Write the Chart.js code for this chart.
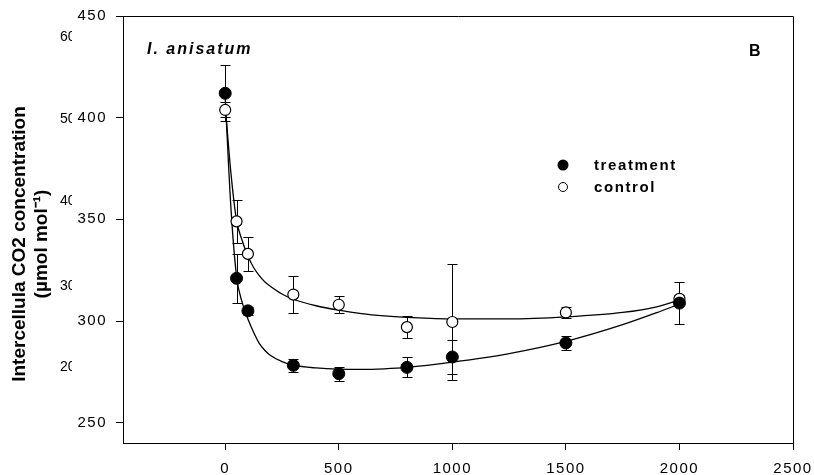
<!DOCTYPE html>
<html>
<head>
<meta charset="utf-8">
<script src="https://cdn.jsdelivr.net/npm/chart.js@4.4.1/dist/chart.umd.min.js"></script>
<style>
html, body { margin: 0; padding: 0; background: #fff; }
#wrap { width: 814px; height: 475px; }
</style>
</head>
<body>
<div id="wrap"><canvas id="chart"></canvas></div>
<script>
// measured points (mean and error)
const doses = [0, 50, 100, 300, 500, 800, 1000, 1500, 2000]
const treatment = [412, 321, 305, 278.2, 274.1, 277.2, 282.3, 289.2, 308.8]
const treatmentErr = [13.8, 12, 2, 3.1, 3.5, 4.9, 8.5, 3.4, 10.5]
const control = [403.8, 349, 333, 313, 308, 297, 299.5, 304.2, 310.9]
const controlErr = [3.7, 10.5, 8.3, 9.1, 4.2, 5.3, 28.5, 2.7, 2]

// fitted curves
const fitX = [0, 25, 50, 75, 100, 125, 150, 175, 200, 250, 300, 400, 500, 600, 700, 800, 1000, 1250, 1500, 1750, 1900, 2000]
const treatmentFit = [410, 356, 322, 309, 301, 294.5, 289, 285.5, 283, 280, 278.3, 276.9, 276.3, 276.2, 276.5, 277.2, 279.8, 284, 290, 298.2, 304.1, 308.3]
const controlFit = [406, 373, 349.5, 339.5, 332, 326.3, 322.3, 319.2, 317, 313.3, 310.7, 307.5, 305.3, 303.6, 302.5, 301.8, 301, 301, 302, 304.2, 307, 310.4]

const xTicks = [0, 500, 1000, 1500, 2000, 2500]
const yTicks = [250, 300, 350, 400, 450]
const ghostLabels = ['60', '50', '40', '30', '20']

const pts = (xs, ys) => xs.map((x, i) => ({ x: x, y: ys[i] }))

const errorBars = {
    id: 'errorBars',
    beforeDatasetsDraw(chart) {
        const { ctx, scales: { x, y } } = chart
        ctx.save()
        ctx.strokeStyle = '#000'
        ctx.lineWidth = 1
        const sets = [[treatment, treatmentErr], [control, controlErr]]
        sets.forEach(([vals, errs]) => {
            doses.forEach((d, i) => {
                const px = Math.round(x.getPixelForValue(d)) + 0.5
                const top = Math.round(y.getPixelForValue(vals[i] + errs[i])) + 0.5
                const bot = Math.round(y.getPixelForValue(vals[i] - errs[i])) + 0.5
                ctx.beginPath()
                ctx.moveTo(px, top); ctx.lineTo(px, bot)
                ctx.moveTo(px - 5, top); ctx.lineTo(px + 5, top)
                ctx.moveTo(px - 5, bot); ctx.lineTo(px + 5, bot)
                ctx.stroke()
            })
        })
        ctx.restore()
    }
}

const decor = {
    id: 'decor',
    beforeDraw(chart) {
        chart.ctx.letterSpacing = '1.5px'
    },
    afterDraw(chart) {
        const { ctx, chartArea: a } = chart
        ctx.save()
        ctx.letterSpacing = '0px'
        // frame top and right
        ctx.strokeStyle = '#000'
        ctx.lineWidth = 1
        ctx.beginPath()
        ctx.moveTo(a.left, Math.round(a.top) + 0.5)
        ctx.lineTo(Math.round(a.right) + 0.5, Math.round(a.top) + 0.5)
        ctx.lineTo(Math.round(a.right) + 0.5, a.bottom)
        ctx.stroke()

        ctx.fillStyle = '#000'
        // leftover labels of the panel behind
        ctx.save()
        ctx.beginPath()
        ctx.rect(0, 0, 72, 475)
        ctx.clip()
        ctx.font = '14px "Liberation Sans", Arial, sans-serif'
        ctx.textBaseline = 'middle'
        ctx.textAlign = 'left'
        const gy = [37.5, 118.7, 201, 286, 367.5]
        ghostLabels.forEach((t, i) => ctx.fillText(t, 60, gy[i]))
        ctx.restore()

        // y axis title
        ctx.save()
        ctx.font = 'bold 19px "Liberation Sans", Arial, sans-serif'
        ctx.textAlign = 'center'
        ctx.textBaseline = 'alphabetic'
        ctx.translate(25, 244)
        ctx.rotate(-Math.PI / 2)
        ctx.fillText('Intercellula CO2 concentration', 0, 0)
        ctx.restore()
        ctx.save()
        ctx.font = 'bold 19px "Liberation Sans", Arial, sans-serif'
        ctx.textAlign = 'center'
        ctx.textBaseline = 'alphabetic'
        ctx.translate(47, 244)
        ctx.rotate(-Math.PI / 2)
        ctx.fillText('(\u00b5mol mol\u207b\u00b9)', 0, 0)
        ctx.restore()

        // panel labels
        ctx.textAlign = 'left'
        ctx.textBaseline = 'alphabetic'
        ctx.letterSpacing = '2px'
        ctx.font = 'italic bold 16px "Liberation Sans", Arial, sans-serif'
        ctx.fillText('I. anisatum', 147, 53.5)
        ctx.font = 'bold 16px "Liberation Sans", Arial, sans-serif'
        ctx.fillText('B', 749, 55.5)

        // legend
        ctx.letterSpacing = '1.6px'
        ctx.font = 'bold 15px "Liberation Sans", Arial, sans-serif'
        ctx.fillText('treatment', 594, 170)
        ctx.fillText('control', 594, 191.5)
        ctx.beginPath()
        ctx.arc(563, 165, 5.5, 0, Math.PI * 2)
        ctx.fill()
        ctx.beginPath()
        ctx.arc(563, 187, 4.5, 0, Math.PI * 2)
        ctx.fillStyle = '#fff'
        ctx.fill()
        ctx.lineWidth = 1
        ctx.stroke()
        ctx.restore()
    }
}

const tickFont = { family: '"Liberation Sans", Arial, sans-serif', size: 15 }

new Chart(document.getElementById('chart'), {
    type: 'scatter',
    data: {
        datasets: [{
            label: 'treatment',
            data: pts(doses, treatment),
            pointRadius: 6,
            pointBackgroundColor: '#000',
            pointBorderColor: '#000',
            pointBorderWidth: 1
        }, {
            label: 'control',
            data: pts(doses, control),
            pointRadius: 5.5,
            pointBackgroundColor: '#fff',
            pointBorderColor: '#000',
            pointBorderWidth: 1.2
        }, {
            label: 'treatment fit',
            data: pts(fitX, treatmentFit),
            showLine: true,
            pointRadius: 0,
            borderColor: '#000',
            borderWidth: 1.3,
            cubicInterpolationMode: 'monotone'
        }, {
            label: 'control fit',
            data: pts(fitX, controlFit),
            showLine: true,
            pointRadius: 0,
            borderColor: '#000',
            borderWidth: 1.3,
            cubicInterpolationMode: 'monotone'
        }]
    },
    options: {
        responsive: true,
        maintainAspectRatio: false,
        animation: false,
        layout: { padding: { top: 16, right: 21, left: 0, bottom: 0 } },
        plugins: { legend: { display: false }, tooltip: { enabled: false } },
        scales: {
            x: {
                type: 'linear',
                min: -450,
                max: 2500,
                afterBuildTicks: s => { s.ticks = xTicks.map(v => ({ value: v })) },
                afterFit: s => { s.height = 32; s.paddingLeft = 0; s.paddingRight = 0 },
                grid: { drawOnChartArea: false, drawTicks: true, tickLength: 7, color: '#000' },
                border: { display: true, color: '#000', width: 1 },
                ticks: { font: tickFont, color: '#000', padding: 10, maxRotation: 0, autoSkip: false, callback: v => String(v) }
            },
            y: {
                type: 'linear',
                min: 240,
                max: 450,
                afterBuildTicks: s => { s.ticks = yTicks.map(v => ({ value: v })) },
                afterFit: s => { s.width = 123; s.paddingTop = 0; s.paddingBottom = 0 },
                grid: { drawOnChartArea: false, drawTicks: true, tickLength: 7, color: '#000' },
                border: { display: true, color: '#000', width: 1 },
                ticks: { font: tickFont, color: '#000', padding: 9, callback: v => String(v) }
            }
        }
    },
    plugins: [errorBars, decor]
})
</script>
</body>
</html>
